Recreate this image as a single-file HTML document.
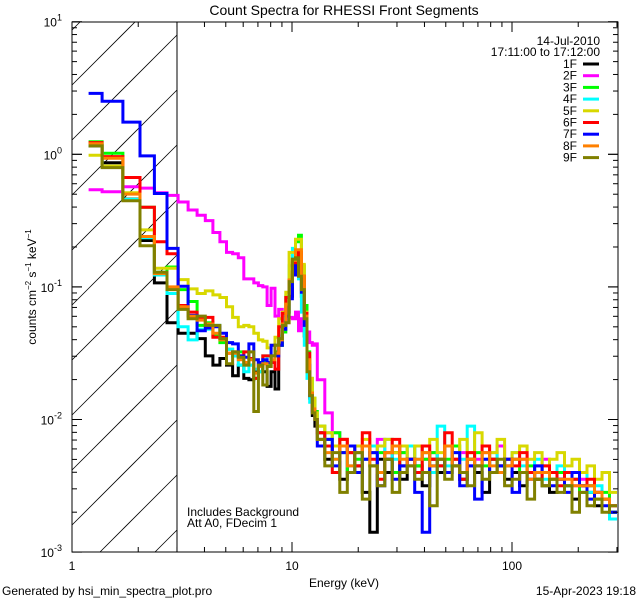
<!DOCTYPE html>
<html><head><meta charset="utf-8"><style>
html,body{margin:0;padding:0;background:#fff;width:640px;height:600px;overflow:hidden;}
svg{display:block;font-family:"Liberation Sans",sans-serif;}
</style></head><body>
<svg id="chart" width="640" height="600" viewBox="0 0 640 600" xmlns="http://www.w3.org/2000/svg">
<defs><clipPath id="plotclip"><rect x="72" y="22" width="546" height="530"/></clipPath></defs>
<rect x="0" y="0" width="640" height="600" fill="#fff"/>
<text x="344" y="15" font-size="14" text-anchor="middle">Count Spectra for RHESSI Front Segments</text>
<g id="hatch"></g>
<line x1="177" y1="22" x2="177" y2="552" stroke="#000" stroke-width="1"/>
<g id="series" clip-path="url(#plotclip)"></g>
<g id="axes"></g>
<text x="344" y="587" font-size="12" text-anchor="middle">Energy (keV)</text>
<text transform="translate(36,287) rotate(-90)" font-size="12" text-anchor="middle">counts cm<tspan font-size="8" dy="-5">−2</tspan><tspan dy="5"> s</tspan><tspan font-size="8" dy="-5">−1</tspan><tspan dy="5"> keV</tspan><tspan font-size="8" dy="-5">−1</tspan></text>
<text x="187" y="516" font-size="12">Includes Background</text>
<text x="187" y="527" font-size="12">Att A0, FDecim 1</text>
<text x="600" y="45" font-size="12" text-anchor="end">14-Jul-2010</text>
<text x="600" y="56" font-size="12" text-anchor="end">17:11:00 to 17:12:00</text>
<g id="legend"></g>
<text x="2" y="595" font-size="12">Generated by hsi_min_spectra_plot.pro</text>
<text x="636" y="595" font-size="12" text-anchor="end">15-Apr-2023 19:18</text>
</svg>
<script>
// log10 counts per bin (36 low-energy 1/3-keV bins followed by 40 log-spaced high-energy bins)
const seriesNames = ["1F","2F","3F","4F","5F","6F","7F","8F","9F"];
const seriesColors = ["#000000","#ff00ff","#00ff00","#00ffff","#d8d800","#ff0000","#0000ff","#ff8000","#808000"];
const s1F = [0.063,-0.063,-0.338,-0.65,-0.97,-1.27,-1.35,-1.35,-1.39,-1.52,-1.59,-1.54,-1.59,-1.67,-1.59,-1.69,-1.70,-1.64,-1.57,-1.64,-1.75,-1.64,-1.77,-1.44,-1.29,-1.19,-1.07,-0.89,-0.79,-0.84,-1.07,-1.37,-1.64,-1.84,-1.97,-2.05,
 -2.10,-2.30,-2.20,-2.45,-2.20,-2.35,-2.55,-2.85,-2.30,-2.40,-2.25,-2.45,-2.30,-2.35,-2.50,-2.30,-2.40,-2.20,-2.35,-2.45,-2.30,-2.40,-2.55,-2.30,-2.35,-2.45,-2.40,-2.50,-2.40,-2.45,-2.50,-2.55,-2.45,-2.50,-2.60,-2.50,-2.55,-2.65,-2.60,-2.70];
const s2F = [-0.268,-0.283,-0.245,-0.255,-0.29,-0.31,-0.36,-0.42,-0.46,-0.50,-0.59,-0.66,-0.74,-0.75,-0.78,-0.94,-0.94,-0.97,-0.99,-1.00,-1.14,-1.01,-1.22,-1.17,-1.22,-1.24,-1.23,-1.24,-1.19,-1.33,-1.24,-1.32,-1.34,-1.42,-1.44,-1.43,
 -1.70,-1.95,-2.10,-2.15,-2.25,-2.20,-2.30,-2.25,-2.15,-2.30,-2.20,-2.25,-2.35,-2.20,-2.30,-2.25,-2.35,-2.20,-2.30,-2.25,-2.35,-2.30,-2.25,-2.30,-2.20,-2.35,-2.30,-2.30,-2.40,-2.35,-2.30,-2.40,-2.45,-2.40,-2.50,-2.45,-2.50,-2.55,-2.60,-2.65];
const s3F = [0.095,0.008,-0.34,-0.40,-0.89,-0.85,-1.02,-1.11,-1.29,-1.27,-1.37,-1.42,-1.47,-1.52,-1.49,-1.59,-1.59,-1.69,-1.64,-1.57,-1.59,-1.52,-1.49,-1.44,-1.34,-1.19,-0.99,-0.84,-0.66,-0.61,-0.84,-1.14,-1.49,-1.69,-1.84,-1.94,
 -2.05,-2.15,-2.10,-2.25,-2.40,-2.30,-2.20,-2.35,-2.25,-2.30,-2.40,-2.25,-2.20,-2.35,-2.30,-2.25,-2.35,-2.30,-2.20,-2.40,-2.30,-2.25,-2.35,-2.30,-2.40,-2.35,-2.30,-2.40,-2.35,-2.45,-2.40,-2.45,-2.40,-2.50,-2.45,-2.55,-2.50,-2.60,-2.55,-2.70];
const s4F = [0.07,-0.09,-0.34,-0.63,-0.91,-1.05,-1.30,-1.40,-1.32,-1.32,-1.29,-1.39,-1.47,-1.52,-1.59,-1.64,-1.59,-1.62,-1.64,-1.52,-1.57,-1.52,-1.44,-1.37,-1.24,-1.07,-0.84,-0.71,-0.74,-0.94,-1.19,-1.44,-1.69,-1.87,-1.94,-1.97,
 -2.15,-2.10,-2.30,-2.20,-2.35,-2.25,-2.30,-2.20,-2.40,-2.15,-2.30,-2.35,-2.20,-2.30,-2.25,-2.40,-2.05,-2.35,-2.25,-2.30,-2.05,-2.35,-2.30,-2.25,-2.40,-2.30,-2.25,-2.35,-2.40,-2.30,-2.45,-2.40,-2.35,-2.50,-2.45,-2.40,-2.55,-2.50,-2.60,-2.75];
const s5F = [-0.007,-0.088,-0.29,-0.57,-0.86,-0.86,-0.945,-1.015,-1.05,-1.03,-1.06,-1.08,-1.15,-1.23,-1.30,-1.29,-1.30,-1.35,-1.40,-1.41,-1.46,-1.44,-1.38,-1.24,-1.19,-1.04,-0.74,-0.74,-0.64,-0.64,-0.83,-1.19,-1.52,-1.69,-1.84,-1.95,
 -2.05,-2.10,-2.20,-2.15,-2.25,-2.20,-2.15,-2.25,-2.20,-2.15,-2.25,-2.20,-2.30,-2.20,-2.25,-2.15,-2.25,-2.20,-2.30,-2.15,-2.25,-2.10,-2.20,-2.25,-2.15,-2.30,-2.25,-2.20,-2.30,-2.25,-2.35,-2.30,-2.25,-2.35,-2.30,-2.40,-2.35,-2.45,-2.40,-2.55];
const s6F = [0.088,-0.017,-0.175,-0.40,-0.66,-0.75,-1.14,-1.19,-1.24,-1.23,-1.38,-1.38,-1.50,-1.49,-1.52,-1.49,-1.54,-1.69,-1.59,-1.52,-1.52,-1.57,-1.62,-1.30,-1.20,-1.08,-0.95,-0.82,-0.76,-0.74,-0.92,-1.20,-1.50,-1.80,-1.93,-2.00,
 -2.10,-2.20,-2.40,-2.15,-2.25,-2.35,-2.10,-2.30,-2.45,-2.25,-2.15,-2.35,-2.30,-2.40,-2.20,-2.30,-2.35,-2.10,-2.30,-2.45,-2.25,-2.35,-2.20,-2.30,-2.40,-2.30,-2.35,-2.25,-2.40,-2.45,-2.35,-2.40,-2.50,-2.40,-2.45,-2.50,-2.45,-2.55,-2.60,-2.65];
const s7F = [0.459,0.40,0.243,-0.012,-0.296,-0.71,-0.995,-1.215,-1.33,-1.31,-1.30,-1.35,-1.42,-1.43,-1.52,-1.53,-1.43,-1.55,-1.57,-1.55,-1.57,-1.44,-1.52,-1.44,-1.32,-1.22,-1.09,-0.91,-0.84,-0.84,-1.04,-1.29,-1.59,-1.82,-1.94,-2.00,
 -2.20,-2.15,-2.35,-2.25,-2.20,-2.40,-2.30,-2.25,-2.50,-2.30,-2.45,-2.35,-2.30,-2.55,-2.85,-2.35,-2.30,-2.40,-2.25,-2.50,-2.35,-2.60,-2.30,-2.40,-2.35,-2.30,-2.55,-2.40,-2.45,-2.35,-2.40,-2.50,-2.45,-2.55,-2.40,-2.50,-2.60,-2.55,-2.65,-2.70];
const s8F = [0.08,-0.03,-0.30,-0.62,-0.90,-1.00,-1.15,-1.22,-1.25,-1.28,-1.35,-1.40,-1.50,-1.50,-1.55,-1.57,-1.55,-1.65,-1.60,-1.58,-1.60,-1.55,-1.50,-1.40,-1.28,-1.13,-0.95,-0.80,-0.72,-0.72,-0.92,-1.22,-1.55,-1.80,-1.92,-2.00,
 -2.15,-2.25,-2.30,-2.20,-2.35,-2.25,-2.20,-2.35,-2.40,-2.25,-2.20,-2.30,-2.35,-2.30,-2.25,-2.35,-2.30,-2.20,-2.35,-2.40,-2.30,-2.35,-2.25,-2.35,-2.40,-2.35,-2.30,-2.30,-2.45,-2.40,-2.40,-2.45,-2.45,-2.45,-2.50,-2.50,-2.50,-2.55,-2.60,-2.65];
const s9F = [0.063,-0.10,-0.35,-0.69,-0.89,-1.02,-1.17,-1.24,-1.22,-1.29,-1.29,-1.39,-1.58,-1.49,-1.53,-1.59,-1.49,-1.94,-1.59,-1.74,-1.60,-1.52,-1.44,-1.39,-1.29,-1.27,-0.96,-0.79,-0.78,-0.92,-1.02,-1.24,-1.64,-1.82,-1.95,-2.00,
 -2.15,-2.35,-2.25,-2.55,-2.40,-2.25,-2.60,-2.35,-2.50,-2.30,-2.55,-2.40,-2.35,-2.45,-2.40,-2.65,-2.30,-2.45,-2.35,-2.40,-2.50,-2.35,-2.45,-2.40,-2.30,-2.50,-2.45,-2.40,-2.60,-2.45,-2.50,-2.45,-2.55,-2.50,-2.70,-2.55,-2.65,-2.60,-2.70,-2.65];
const seriesValues = [s1F,s2F,s3F,s4F,s5F,s6F,s7F,s8F,s9F];
const xTickLabels = ["1","10","100"];
const yTickExponents = ["1","0","-1","-2","-3"];

const NS = "http://www.w3.org/2000/svg";
function xScale(e){ return 72 + 220*Math.log10(e); }
function yScale(lg){ return 154.3 - 132.6*lg; }
function mk(tag, attrs, parent){ const el=document.createElementNS(NS,tag); for(const k in attrs) el.setAttribute(k,attrs[k]); parent.appendChild(el); return el; }

// energy bin edges (keV)
const edges=[1.19];
for(let k=1;k<=36;k++) edges.push(1.0367+k/3);
const hiStart=edges[36];
for(let j=1;j<=40;j++) edges.push(hiStart*Math.pow(300/hiStart,j/40));

// hatch (lines of slope -1 clipped manually to x 72..177, y 22..552)
const hatch=document.getElementById('hatch');
for(let i=0;i<13;i++){
  const y0=30+55*i;
  const xa=Math.max(72,72+(y0-552)), xb=Math.min(177,72+(y0-22));
  if(xb<=xa) continue;
  const ln=mk('line',{x1:xa,y1:y0-(xa-72),x2:xb,y2:y0-(xb-72),stroke:'#000','stroke-width':0.8},hatch);
  
  
}

// series
const sg=document.getElementById('series');
seriesValues.forEach((vals,si)=>{
  let d='';
  vals.forEach((v,i)=>{
    const xa=xScale(edges[i]).toFixed(1), xb=Math.min(617.5,xScale(edges[i+1])).toFixed(1), y=Math.max(22,Math.min(552,yScale(v))).toFixed(1);
    d += (i===0?'M':'L')+xa+','+y+'L'+xb+','+y;
  });
  const p=mk('path',{d:d,fill:'none',stroke:seriesColors[si],'stroke-width':3,'stroke-linejoin':'miter'},sg);
  
  
});

// axes
const ax=document.getElementById('axes');
const frame=mk('rect',{x:72,y:22,width:546,height:530,fill:'none',stroke:'#000','stroke-width':1},ax);


for(let dec=0;dec<3;dec++){
  for(let m=1;m<=9;m++){
    const e=m*Math.pow(10,dec); if(e>300) continue;
    const x=xScale(e), L=(m===1)?10:5;
    const t1=mk('line',{x1:x,y1:552,x2:x,y2:552-L,stroke:'#000'},ax);
    
    
    const t2=mk('line',{x1:x,y1:22,x2:x,y2:22+L,stroke:'#000'},ax);
    
    
  }
}
xTickLabels.forEach((lab,i)=>{
  const t=mk('text',{x:xScale(Math.pow(10,i)),y:570,'font-size':12,'text-anchor':'middle'},ax);
  t.textContent=lab;
  
  
});
for(let dec=-3;dec<1;dec++){
  for(let m=1;m<=10;m++){
    const lg=dec+Math.log10(m); const y=yScale(lg);
    const L=(m===1||m===10)?10:5;
    const t1=mk('line',{x1:72,y1:y,x2:72+L,y2:y,stroke:'#000'},ax);
    
    
    const t2=mk('line',{x1:618,y1:y,x2:618-L,y2:y,stroke:'#000'},ax);
    
    
  }
}
yTickExponents.forEach(ex=>{
  const y=yScale(parseFloat(ex));
  const t=mk('text',{x:62,y:y+5,'font-size':12,'text-anchor':'end'},ax);
  t.textContent='10';
  const sup=mk('tspan',{'font-size':9,dy:-6},t);
  sup.textContent=ex;
  
  
});

// legend
const lg=document.getElementById('legend');
seriesNames.forEach((n,i)=>{
  const y=64+i*11.7;
  const g=mk('g',{},lg);
  
  
  const t=mk('text',{x:577,y:y+4,'font-size':12,'text-anchor':'end'},g);
  t.textContent=n;
  mk('line',{x1:583,y1:y,x2:599,y2:y,stroke:seriesColors[i],'stroke-width':3},g);
});
</script>
</body></html>
